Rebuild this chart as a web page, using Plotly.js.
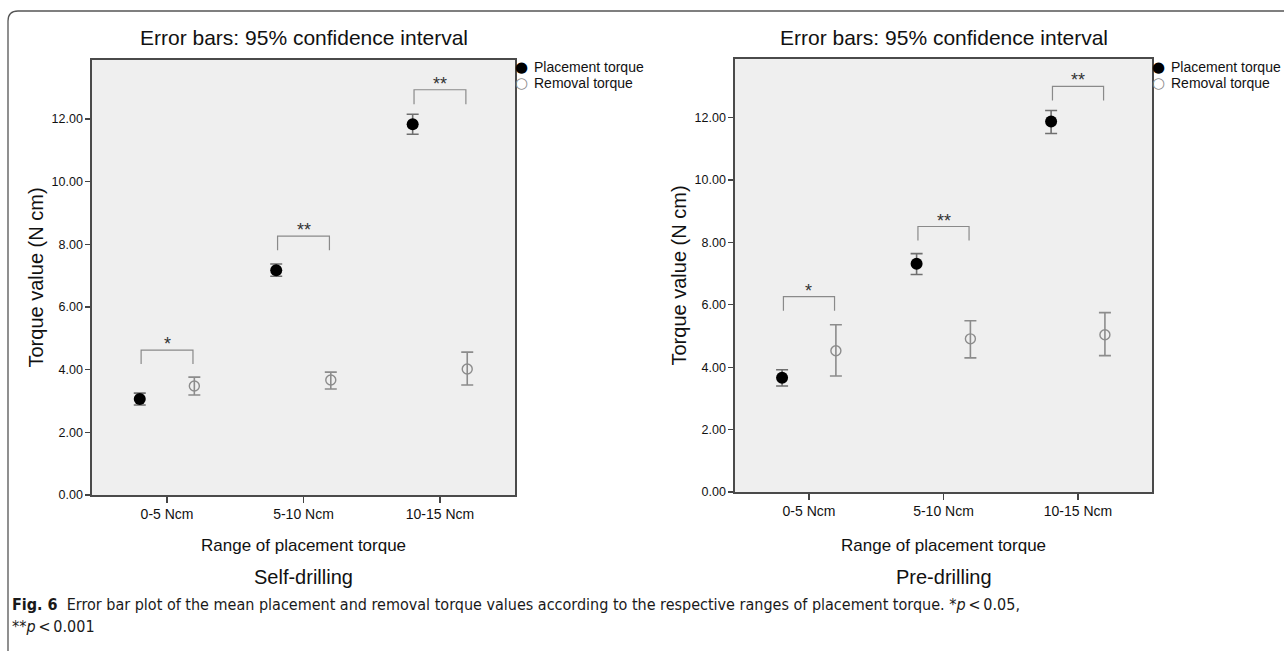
<!DOCTYPE html>
<html>
<head>
<meta charset="utf-8">
<script src="https://cdn.plot.ly/plotly-3.0.1.min.js"></script>
<style>
  html, body { margin: 0; padding: 0; background: #ffffff; }
  #chart { width: 1284px; height: 651px; }
</style>
</head>
<body>
<div id="chart"></div>
<script>
// ---------- Data ----------
const categories = ['0-5 Ncm', '5-10 Ncm', '10-15 Ncm'];
const seriesNames = ['Placement torque', 'Removal torque'];
const yTickVals = [0, 2, 4, 6, 8, 10, 12];

// Self-drilling
const sdPlacementMean  = [3.06, 7.17, 11.83];
const sdPlacementUpper = [3.25, 7.37, 12.15];
const sdPlacementLower = [2.87, 6.98, 11.51];
const sdRemovalMean    = [3.48, 3.67, 4.02];
const sdRemovalUpper   = [3.76, 3.92, 4.56];
const sdRemovalLower   = [3.19, 3.38, 3.51];
const sdBracketTop     = [4.62, 8.26, 12.93];
const sdBracketFoot    = [4.18, 7.81, 12.47];
const sdSignificance   = ['*', '**', '**'];

// Pre-drilling
const pdPlacementMean  = [3.66, 7.32, 11.88];
const pdPlacementUpper = [3.92, 7.64, 12.23];
const pdPlacementLower = [3.40, 6.97, 11.49];
const pdRemovalMean    = [4.53, 4.91, 5.04];
const pdRemovalUpper   = [5.36, 5.49, 5.75];
const pdRemovalLower   = [3.72, 4.30, 4.37];
const pdBracketTop     = [6.26, 8.51, 13.00];
const pdBracketFoot    = [5.81, 8.06, 12.55];
const pdSignificance   = ['*', '**', '**'];

const panelTitle = 'Error bars: 95% confidence interval';
const yTitle = 'Torque value (N cm)';
const xTitle = 'Range of placement torque';
const panelNames = ['Self-drilling', 'Pre-drilling'];
const captionLine1 = '<b>Fig. 6</b>  Error bar plot of the mean placement and removal torque values according to the respective ranges of placement torque. *<i>p</i>\u2009<\u20090.05,';
const captionLine2 = '**<i>p</i>\u2009<\u20090.001';

// ---------- Layout helpers ----------
const W = 1284, H = 651;
const px = v => v / W;
const py = v => 1 - v / H;
const FONT = 'Liberation Sans, Arial, sans-serif';
const CAPFONT = 'Liberation Sans Narrow, DejaVu Sans Condensed, sans-serif';
const OFFSET = 0.2;      // dodge of the two series within a category
const BR = 0.19;         // half-width of significance bracket

const placeColor = '#000000';
const placeErrColor = '#6f6f6f';
const removColor = '#8c8c8c';

function pointTrace(mean, upper, lower, off, xa, ya, name, isPlacement) {
  return {
    type: 'scatter', mode: 'markers', name: name, showlegend: false,
    xaxis: xa, yaxis: ya,
    x: categories.map((c, i) => i + off),
    y: mean,
    error_y: {
      type: 'data', symmetric: false,
      array: upper.map((u, i) => u - mean[i]),
      arrayminus: lower.map((l, i) => mean[i] - l),
      color: isPlacement ? placeErrColor : removColor,
      thickness: 1.6, width: 6
    },
    marker: isPlacement
      ? { symbol: 'circle', size: 12, color: placeColor }
      : { symbol: 'circle-open', size: 10, color: removColor, line: { width: 1.4, color: removColor } },
    hoverinfo: 'x+y'
  };
}

function bracketTrace(top, foot, xa, ya) {
  const x = [], y = [];
  categories.forEach((c, i) => {
    x.push(i - BR, i - BR, i + BR, i + BR, null);
    y.push(foot[i], top[i], top[i], foot[i], null);
  });
  return {
    type: 'scatter', mode: 'lines', showlegend: false, hoverinfo: 'skip',
    xaxis: xa, yaxis: ya, x: x, y: y,
    line: { color: '#8a8a8a', width: 1.2 }
  };
}

const data = [
  bracketTrace(sdBracketTop, sdBracketFoot, 'x', 'y'),
  pointTrace(sdPlacementMean, sdPlacementUpper, sdPlacementLower, -OFFSET, 'x', 'y', seriesNames[0], true),
  pointTrace(sdRemovalMean, sdRemovalUpper, sdRemovalLower, OFFSET, 'x', 'y', seriesNames[1], false),
  bracketTrace(pdBracketTop, pdBracketFoot, 'x2', 'y2'),
  pointTrace(pdPlacementMean, pdPlacementUpper, pdPlacementLower, -OFFSET, 'x2', 'y2', seriesNames[0], true),
  pointTrace(pdRemovalMean, pdRemovalUpper, pdRemovalLower, OFFSET, 'x2', 'y2', seriesNames[1], false)
];

function xAxis(domain, anchor) {
  return {
    domain: domain, anchor: anchor, range: [-0.55, 2.55],
    tickmode: 'array', tickvals: categories.map((c, i) => i), ticktext: categories,
    ticks: 'outside', ticklen: 6, tickwidth: 1.3, tickcolor: '#444',
    showline: true, linecolor: '#4a4a4a', linewidth: 1.6, mirror: true,
    showgrid: false, zeroline: false, fixedrange: true,
    tickfont: { family: FONT, size: 14, color: '#111' }
  };
}
function yAxis(domain, anchor) {
  return {
    domain: domain, anchor: anchor, range: [0, 13.88],
    tickmode: 'array', tickvals: yTickVals, tickformat: '.2f',
    ticks: 'outside', ticklen: 5, tickwidth: 1.3, tickcolor: '#444',
    showline: true, linecolor: '#4a4a4a', linewidth: 1.6, mirror: true,
    showgrid: false, zeroline: false, fixedrange: true,
    tickfont: { family: FONT, size: 12.5, color: '#111' }
  };
}

// plot-area pixel boxes
const boxL = { l: 92, r: 515, t: 60, b: 495 };
const boxR = { l: 735, r: 1152, t: 59, b: 492 };

const annotations = [];
function txt(text, x, y, size, opts) {
  annotations.push(Object.assign({
    text: text, xref: 'paper', yref: 'paper', x: px(x), y: py(y),
    xanchor: 'center', yanchor: 'middle', showarrow: false,
    font: { family: FONT, size: size, color: '#111' }
  }, opts || {}));
}

[boxL, boxR].forEach((b, k) => {
  const cx = (b.l + b.r) / 2;
  txt(panelTitle, cx, 37, 21);
  txt(yTitle, b.l - 57, (b.t + b.b) / 2, 20, { textangle: -90 });
  txt(xTitle, cx, 545, 17);
  txt(panelNames[k], cx, 577, 20);
  // legend (symbol + label)
  const lx = b.r + 6;
  txt('\u25CF', lx, 67, 15, { font: { family: 'DejaVu Sans', size: 15, color: '#000' } });
  txt('\u25CB', lx, 83, 15, { font: { family: 'DejaVu Sans', size: 15, color: '#8c8c8c' } });
  txt(seriesNames[0], lx + 11, 67, 14, { xanchor: 'left' });
  txt(seriesNames[1], lx + 11, 83, 14, { xanchor: 'left' });
});

// significance stars (data coordinates)
[[sdSignificance, sdBracketTop, 'x', 'y'], [pdSignificance, pdBracketTop, 'x2', 'y2']].forEach(s => {
  s[0].forEach((lab, i) => {
    annotations.push({
      text: lab, xref: s[2], yref: s[3], x: i, y: s[1][i],
      xanchor: 'center', yanchor: 'bottom', yshift: -6, showarrow: false,
      font: { family: FONT, size: 18, color: '#333' }
    });
  });
});

// caption
txt(captionLine1, 10, 604, 16, { xanchor: 'left', font: { family: CAPFONT, size: 16, color: '#1a1a1a' } });
txt(captionLine2, 10, 626, 16, { xanchor: 'left', font: { family: CAPFONT, size: 16, color: '#1a1a1a' } });

// figure frame: rounded top-left corner, open to the right and bottom
const r = 10, fx = 8, fy = 11;
const framePath = 'M ' + px(W + 5) + ' ' + py(fy) +
  ' L ' + px(fx + r) + ' ' + py(fy) +
  ' Q ' + px(fx) + ' ' + py(fy) + ' ' + px(fx) + ' ' + py(fy + r) +
  ' L ' + px(fx) + ' ' + py(H + 5);

const layout = {
  width: W, height: H,
  margin: { l: 0, r: 0, t: 0, b: 0, pad: 0 },
  paper_bgcolor: '#ffffff',
  plot_bgcolor: '#efefef',
  showlegend: false,
  font: { family: FONT, color: '#111' },
  xaxis: xAxis([px(boxL.l), px(boxL.r)], 'y'),
  yaxis: yAxis([py(boxL.b), py(boxL.t)], 'x'),
  xaxis2: xAxis([px(boxR.l), px(boxR.r)], 'y2'),
  yaxis2: yAxis([py(boxR.b), py(boxR.t)], 'x2'),
  annotations: annotations,
  shapes: [{
    type: 'path', xref: 'paper', yref: 'paper', path: framePath,
    line: { color: '#555', width: 1.3 }
  }]
};

Plotly.newPlot('chart', data, layout, { displayModeBar: false, staticPlot: true });
</script>
</body>
</html>
